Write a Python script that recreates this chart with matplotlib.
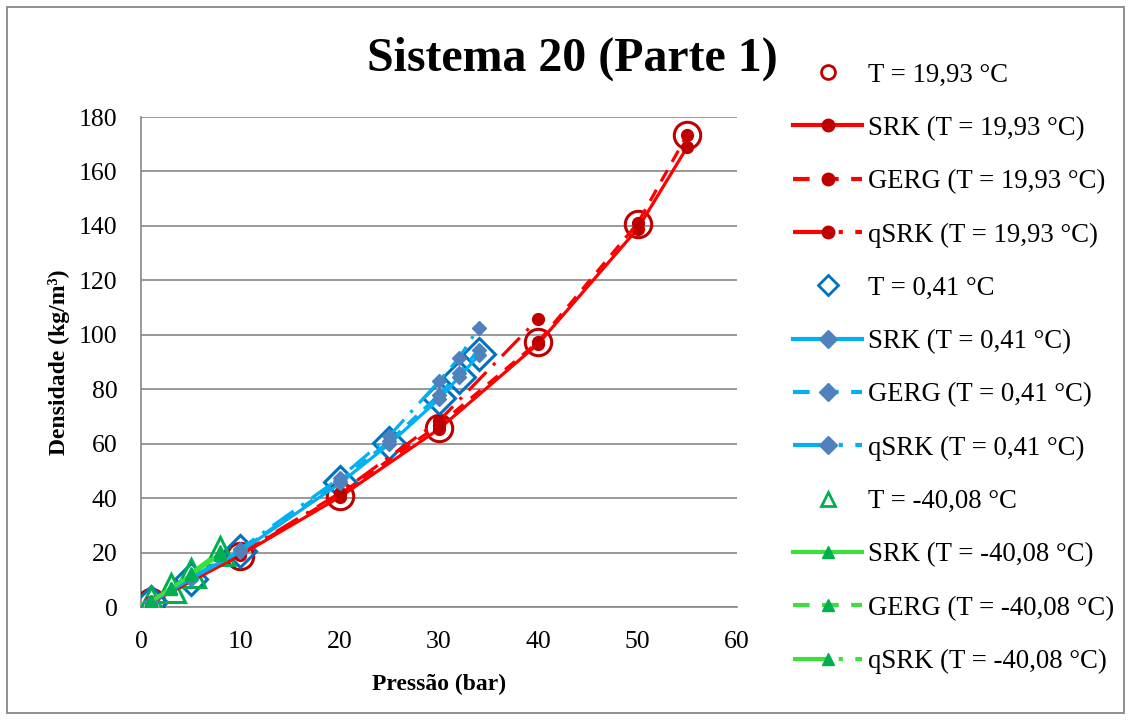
import matplotlib
matplotlib.use("Agg")
import matplotlib.pyplot as plt
from matplotlib.lines import Line2D
from matplotlib.patches import Rectangle

plt.rcParams["font.family"] = ["Liberation Serif", "DejaVu Serif"]

# ---- data ----
P_RED = [1, 10, 20, 30, 40, 50, 55]
EXP_RED = [1.9, 19.0, 40.8, 66.0, 97.3, 140.7, 173.5]
SRK_RED = [1.8, 19.2, 40.5, 65.5, 96.8, 139.0, 169.0]
GERG_RED = [1.9, 19.5, 41.5, 67.0, 97.5, 141.0, 173.5]
P_RED_Q = [1, 10, 20, 30, 40]
QSRK_RED = [1.9, 19.8, 42.0, 68.5, 106.0]

P_BLUE = [1, 5, 10, 20, 25, 30, 32, 34]
EXP_BLUE = [1.9, 10.5, 20.6, 46.0, 60.5, 77.0, 84.5, 93.0]
SRK_BLUE = [1.9, 10.4, 20.5, 45.5, 60.0, 76.5, 84.5, 92.5]
GERG_BLUE = [1.9, 10.6, 20.8, 46.5, 61.0, 78.0, 86.0, 94.5]
QSRK_BLUE = [2.0, 10.8, 21.5, 47.5, 63.0, 83.0, 91.5, 102.7]

P_GREEN = [1, 3, 5, 8]
EXP_GREEN = [2.2, 7.2, 12.8, 20.6]
SRK_GREEN = [2.1, 6.8, 11.8, 19.3]
GERG_GREEN = [2.2, 7.0, 12.2, 20.0]
QSRK_GREEN = [2.2, 7.2, 12.6, 20.8]

TEMPS = ["19,93", "0,41", "-40,08"]

# ---- styles ----
LW = 2.3
DASH = (0, (4, 3))
DASHDOT = (0, (8, 3, 1, 3))
GRID = "#878787"

groups = [
    # P, exp, models, line colour, marker colour, exp marker, exp colour, model marker, sizes
    (P_RED, EXP_RED, [(P_RED, SRK_RED), (P_RED, GERG_RED), (P_RED_Q, QSRK_RED)],
     "#FF0000", "#C00000", "o", "#C00000", "o", 19, 8.5),
    (P_BLUE, EXP_BLUE, [(P_BLUE, SRK_BLUE), (P_BLUE, GERG_BLUE), (P_BLUE, QSRK_BLUE)],
     "#00B0F0", "#4F81BD", "D", "#0070C0", "D", 16.5, 7),
    (P_GREEN, EXP_GREEN, [(P_GREEN, SRK_GREEN), (P_GREEN, GERG_GREEN), (P_GREEN, QSRK_GREEN)],
     "#3CE03C", "#00B050", "^", "#00B050", "^", 20, 8.5),
]

fig = plt.figure(figsize=(11.31, 7.2), dpi=100)
ax = fig.add_axes([0.1247, 0.1563, 0.5269, 0.6812])

handles, labels = [], []
for (p, exp, models, lc, mc, emk, ec, mmk, ems, mms), t in zip(groups, TEMPS):
    ax.plot(p, exp, linestyle="none", marker=emk, markersize=ems,
            markerfacecolor="none", markeredgecolor=ec, markeredgewidth=2.2, zorder=3)
    handles.append(Line2D([], [], linestyle="none", marker=emk, markersize=10,
                          markerfacecolor="none", markeredgecolor=ec, markeredgewidth=2))
    labels.append(f"T = {t} °C")
    for (mp, mv), name, ls in zip(models, ["SRK", "GERG", "qSRK"], ["-", DASH, DASHDOT]):
        ax.plot(mp, mv, color=lc, linestyle=ls, linewidth=LW, marker=mmk,
                markersize=mms, markerfacecolor=mc, markeredgecolor=mc, zorder=4)
        handles.append(Line2D([], [], color=lc, linestyle=ls, linewidth=LW * 1.3, marker=mmk,
                              markersize=9, markerfacecolor=mc, markeredgecolor=mc))
        labels.append(f"{name} (T = {t} °C)")

ax.set_xlim(0, 60)
ax.set_ylim(0, 180)
ax.set_xticks(range(0, 61, 10))
ax.set_yticks(range(0, 181, 20))
ax.tick_params(length=0, labelsize=18.5)
ax.tick_params(axis="x", pad=17)
ax.tick_params(axis="y", pad=17)
ax.grid(axis="y", color=GRID, linewidth=1.2)
ax.set_axisbelow(True)
for s in ["top", "right"]:
    ax.spines[s].set_visible(False)
for s in ["left", "bottom"]:
    ax.spines[s].set_color(GRID)
    ax.spines[s].set_linewidth(1.2)

ax.set_xlabel("Pressão (bar)", fontsize=17, fontweight="bold", labelpad=15)
ax.set_ylabel("Densidade (kg/m³)", fontsize=17, fontweight="bold", labelpad=6)

fig.text(0.506, 0.919, "Sistema 20 (Parte 1)", ha="center", va="center",
         fontsize=34.5, fontweight="bold")

fig.legend(handles, labels, loc="upper left", bbox_to_anchor=(0.692, 0.928),
           frameon=False, fontsize=19.3, handlelength=2.57, handletextpad=0.22,
           labelspacing=1.055, borderaxespad=0)

fig.patches.append(Rectangle((0.0062, 0.0097), 0.9876, 0.9806, transform=fig.transFigure,
                             fill=False, edgecolor=GRID, linewidth=1.3))

fig.savefig("out.png", dpi=100)
